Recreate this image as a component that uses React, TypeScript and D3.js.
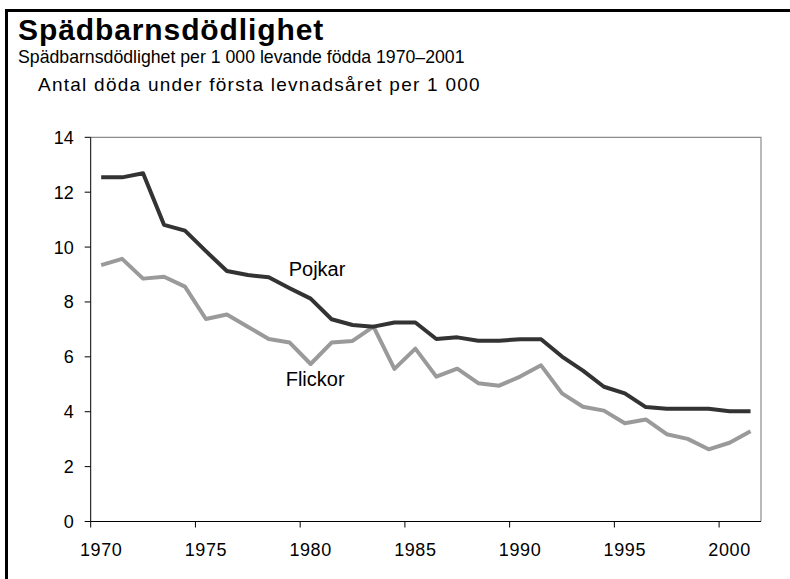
import React, { useRef, useEffect } from "react";
import * as d3 from "d3";

// years 1970-2001
const years = d3.range(1970, 2002);
// infant deaths per 1000, boys
const pojkar = [
  12.54, 12.54, 12.69, 10.81, 10.6, 9.85, 9.13, 8.98, 8.9, 8.5, 8.12, 7.37,
  7.16, 7.1, 7.25, 7.25, 6.65, 6.71, 6.59, 6.59, 6.64, 6.64, 6.01, 5.5, 4.91,
  4.67, 4.17, 4.11, 4.11, 4.11, 4.02, 4.02,
];
// girls
const flickor = [
  9.34, 9.57, 8.85, 8.92, 8.56, 7.38, 7.54, 7.1, 6.65, 6.52, 5.74, 6.52, 6.58,
  7.1, 5.56, 6.3, 5.28, 5.57, 5.04, 4.95, 5.28, 5.69, 4.67, 4.18, 4.04, 3.58,
  3.72, 3.18, 3.01, 2.63, 2.87, 3.29,
];
const yTicks = [0, 2, 4, 6, 8, 10, 12, 14];
const xLabels = [1970, 1975, 1980, 1985, 1990, 1995, 2000];

const title = "Spädbarnsdödlighet";
const subtitle = "Spädbarnsdödlighet per 1 000 levande födda 1970–2001";
const yTitle = "Antal döda under första levnadsåret per 1 000";

const font = "'Liberation Sans', Arial, Helvetica, sans-serif";

const App = () => {
  const d3Container = useRef(null);
  const width = 790;
  const height = 579;

  useEffect(() => {
    if (!d3Container.current) return;
    const svg = d3.select(d3Container.current);
    svg.selectAll("*").remove();

    const margins = { left: 90.7, right: 29, top: 137.3, bottom: 57.5 };
    const w = width - margins.left - margins.right;
    const h = height - margins.top - margins.bottom;

    // outer frame (only left and top visible)
    svg
      .append("path")
      .attr("d", `M6.5,${height}V10.5H${width}`)
      .attr("fill", "none")
      .attr("stroke", "#000")
      .attr("stroke-width", 3);

    svg
      .append("text")
      .attr("x", 18)
      .attr("y", 40)
      .attr("font-family", font)
      .attr("font-weight", "bold")
      .attr("font-size", 30)
      .attr("letter-spacing", 0.9)
      .text(title);
    svg
      .append("text")
      .attr("x", 18)
      .attr("y", 63)
      .attr("font-family", font)
      .attr("font-size", 17.7)
      .text(subtitle);
    svg
      .append("text")
      .attr("x", 38)
      .attr("y", 90.5)
      .attr("font-family", font)
      .attr("font-size", 19)
      .attr("letter-spacing", 1.25)
      .text(yTitle);

    const g = svg
      .append("g")
      .attr("transform", "translate(" + margins.left + "," + margins.top + ")");

    const x = d3.scaleBand().domain(years).range([0, w]).padding(0);
    const y = d3.scaleLinear().domain([0, 14]).range([h, 0]);
    const cx = (yr) => x(yr) + x.bandwidth() / 2;

    // plot border top and right
    g.append("path")
      .attr("d", `M0,0H${w}V${h}`)
      .attr("fill", "none")
      .attr("stroke", "#8c8c8c")
      .attr("stroke-width", 1.2);

    // y axis
    g.append("line")
      .attr("x1", 0)
      .attr("x2", 0)
      .attr("y1", 0)
      .attr("y2", h)
      .attr("stroke", "#000");
    g.selectAll(".ytick")
      .data(yTicks)
      .enter()
      .append("line")
      .attr("x1", -6)
      .attr("x2", 0)
      .attr("y1", (d) => y(d))
      .attr("y2", (d) => y(d))
      .attr("stroke", "#000");
    g.selectAll(".ylab")
      .data(yTicks)
      .enter()
      .append("text")
      .attr("x", -17)
      .attr("y", (d) => y(d))
      .attr("dy", "0.36em")
      .attr("text-anchor", "end")
      .attr("font-family", font)
      .attr("font-size", 18)
      .text((d) => d);

    // x axis
    g.append("line")
      .attr("x1", 0)
      .attr("x2", w)
      .attr("y1", h)
      .attr("y2", h)
      .attr("stroke", "#000");
    g.selectAll(".xtick")
      .data(xLabels)
      .enter()
      .append("line")
      .attr("x1", (d) => x(d))
      .attr("x2", (d) => x(d))
      .attr("y1", h)
      .attr("y2", h + 6)
      .attr("stroke", "#000");
    g.selectAll(".xlab")
      .data(xLabels)
      .enter()
      .append("text")
      .attr("x", (d) => cx(d))
      .attr("y", h + 35)
      .attr("text-anchor", "middle")
      .attr("font-family", font)
      .attr("font-size", 18)
      .attr("letter-spacing", 0.6)
      .text((d) => d);

    const line = d3
      .line()
      .x((d, i) => cx(years[i]))
      .y((d) => y(d));

    g.append("path")
      .datum(flickor)
      .attr("d", line)
      .attr("fill", "none")
      .attr("stroke", "#9a9a9a")
      .attr("stroke-width", 4)
      .attr("stroke-linejoin", "round");
    g.append("path")
      .datum(pojkar)
      .attr("d", line)
      .attr("fill", "none")
      .attr("stroke", "#333333")
      .attr("stroke-width", 4)
      .attr("stroke-linejoin", "round");

    // series labels
    g.append("text")
      .attr("x", cx(1979) - 1)
      .attr("y", y(8.95))
      .attr("font-family", font)
      .attr("font-size", 20)
      .text("Pojkar");
    g.append("text")
      .attr("x", cx(1979) - 4)
      .attr("y", y(4.92))
      .attr("font-family", font)
      .attr("font-size", 20)
      .text("Flickor");
  }, []);

  return (
    <div style={{ position: "absolute", left: 0, top: 0, width, height }}>
      <svg width={width} height={height} ref={d3Container} />
    </div>
  );
};

export default App;
